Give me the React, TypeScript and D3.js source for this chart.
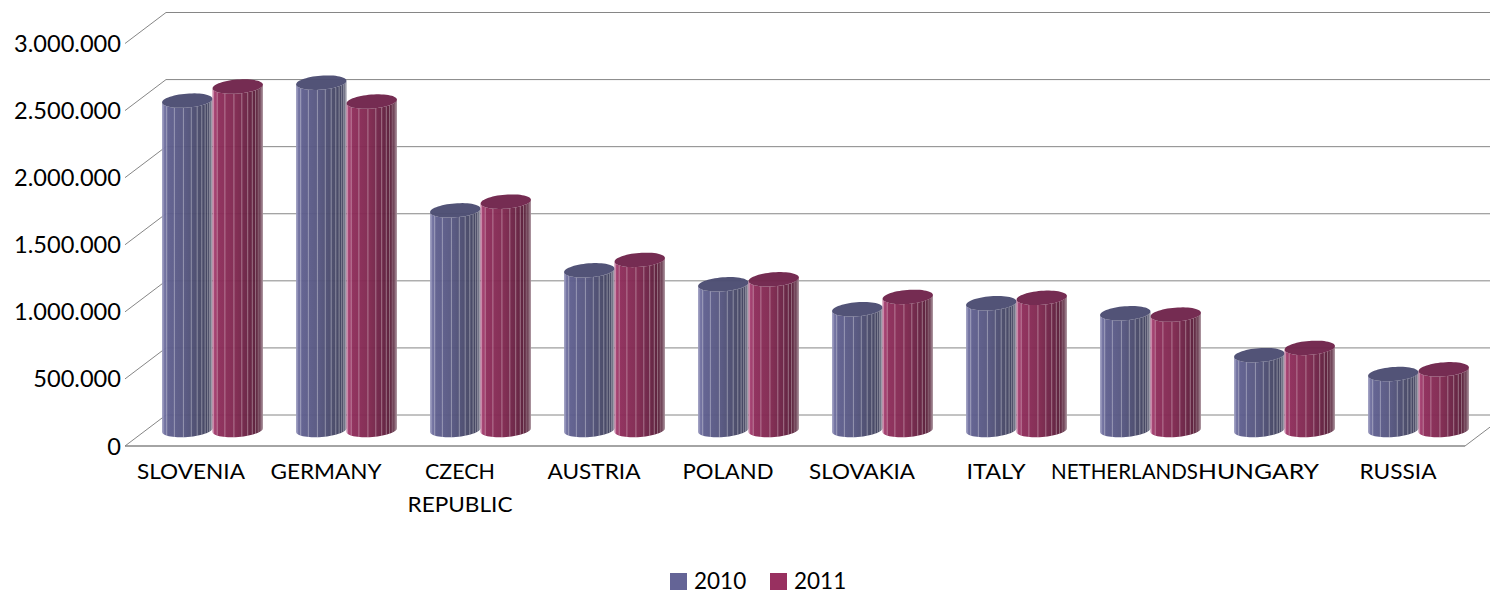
import React from "react";
import * as d3 from "d3";

const categories = ["SLOVENIA", "GERMANY", "CZECH REPUBLIC", "AUSTRIA", "POLAND", "SLOVAKIA", "ITALY", "NETHERLANDS", "HUNGARY", "RUSSIA"];
const series2010 = [2455000, 2589000, 1637000, 1190000, 1086000, 900000, 945000, 870000, 558000, 417000];
const series2011 = [2560000, 2448000, 1702000, 1268000, 1123000, 992000, 985000, 860000, 612000, 452000];
const seriesNames = ["2010", "2011"];
const tickValues = [0, 500000, 1000000, 1500000, 2000000, 2500000, 3000000];
const tickLabels = ["0", "500.000", "1.000.000", "1.500.000", "2.000.000", "2.500.000", "3.000.000"];
const labelShift: Record<string, number> = { NETHERLANDS: -5.5, HUNGARY: -5.5, SLOVENIA: -1 };
const labelWidth: Record<string, number> = {
  SLOVENIA: 108, GERMANY: 111, CZECH: 70, REPUBLIC: 105, AUSTRIA: 93, POLAND: 91,
  SLOVAKIA: 106, ITALY: 59, NETHERLANDS: 147, HUNGARY: 121, RUSSIA: 77,
};

const W = 1490, H = 593;
const FONT = "Lato, 'Noto Sans', sans-serif";
const front = { left: 125, right: 1465, y0: 446, y1: 43.5 };
const depth = { dx: 41, dy: -31 };
const barBaseY = 430;
const barOffset = 37;
const groupWidth = 101;
const RY = 7;
const TILT = (-4.5 * Math.PI) / 180;

const yFront = d3.scaleLinear().domain([0, 3000000]).range([front.y0, front.y1]);
const yBar = d3.scaleLinear().domain([0, 3000000]).range([barBaseY, barBaseY - (front.y0 - front.y1)]);
const xBand = d3.scaleBand<string>().domain(categories).range([front.left, front.right]);
const xInner = d3.scaleBand<string>().domain(seriesNames).range([0, groupWidth]);

const palettes = [
  { id: "g10", stops: ["#7f7fae", "#5f5f8f", "#565680", "#474868", "#3a3b56"], top: "#4c4d72", swatch: "#646496" },
  { id: "g11", stops: ["#b04a7c", "#8e2c5a", "#802850", "#642040", "#4a182e"], top: "#70244b", swatch: "#983060" },
];

const stripeAngles = [14, 34, 58, 80, 98, 112, 124, 134, 143, 151, 158, 164, 170];

function pt(cx: number, cy: number, rx: number, deg: number): [number, number] {
  const t = (deg * Math.PI) / 180;
  const ex = rx * Math.cos(t), ey = RY * Math.sin(t);
  return [cx + ex * Math.cos(TILT) - ey * Math.sin(TILT), cy + ex * Math.sin(TILT) + ey * Math.cos(TILT)];
}
const line = d3.line();

function Cylinder({ cx, rx, topY, bottomY, pal }: { cx: number; rx: number; topY: number; bottomY: number; pal: typeof palettes[number] }) {
  const lower = d3.range(0, 181, 6);
  const body = [
    ...lower.map((a) => pt(cx, bottomY, rx, a)),
    ...lower.slice().reverse().map((a) => pt(cx, topY, rx, a)),
  ];
  const cap = d3.range(0, 361, 6).map((a) => pt(cx, topY, rx, a));
  return (
    <g opacity={0.96}>
      <path d={line(body as [number, number][]) + "Z"} fill={`url(#${pal.id})`} />
      {stripeAngles.map((a) => {
        const p = pt(cx, topY, rx, 180 - a);
        const q = pt(cx, bottomY, rx, 180 - a);
        return <line key={a} x1={p[0]} y1={p[1]} x2={q[0]} y2={q[1]} stroke="#fff" strokeOpacity={0.4} strokeWidth={0.9} />;
      })}
      <path d={line(cap as [number, number][]) + "Z"} fill={pal.top} />
    </g>
  );
}

export default function App() {
  React.useEffect(() => {
    document.body.style.margin = "0";
  }, []);
  const rows = [series2010, series2011];
  const rx = xInner.bandwidth() / 2;
  return (
    <svg width={W} height={H} viewBox={`0 0 ${W} ${H}`} style={{ position: "fixed", left: 0, top: 0, background: "#fff" }} fontFamily={FONT}>
      <defs>
        {palettes.map((p) => (
          <linearGradient key={p.id} id={p.id} x1="0" x2="1" y1="0" y2="0">
            {p.stops.map((c, i) => (
              <stop key={i} offset={[0, 0.12, 0.45, 0.75, 1][i]} stopColor={c} />
            ))}
          </linearGradient>
        ))}
      </defs>

      {tickValues.map((v, i) => {
        const y = yFront(v);
        return (
          <g key={v} stroke="#868686" strokeWidth={1} fill="none">
            {i === 0 && <line x1={front.left} x2={front.right} y1={y} y2={y} strokeWidth={1.4} />}
            {i === 0 && <line x1={front.right} x2={W} y1={y} y2={y + (depth.dy * (W - front.right)) / depth.dx} />}
            <line x1={front.left} y1={y} x2={front.left + depth.dx} y2={y + depth.dy} />
            <line x1={front.left + depth.dx} y1={y + depth.dy} x2={W} y2={y + depth.dy} />
          </g>
        );
      })}

      {tickValues.map((v, i) => (
        <text key={v} x={121} y={yFront(v) + 8.5} textAnchor="end" fontSize={23.6} fill="#000">
          {tickLabels[i]}
        </text>
      ))}

      {categories.map((c, ci) => {
        const bx = (xBand(c) as number) + barOffset;
        return (
          <g key={c}>
            {seriesNames.map((s, si) => {
              const cx = bx + (xInner(s) as number) + rx;
              return <Cylinder key={s} cx={cx} rx={rx} topY={yBar(rows[si][ci])} bottomY={yBar(0)} pal={palettes[si]} />;
            })}
          </g>
        );
      })}

      {categories.map((c) => {
        const cx = (xBand(c) as number) + xBand.bandwidth() / 2 + (labelShift[c] || 0);
        const parts = c === "CZECH REPUBLIC" ? c.split(" ") : [c];
        return (
          <g key={c}>
            {parts.map((p, i) => (
              <text key={p} x={cx} y={479 + i * 33} textAnchor="middle" fontSize={22} fill="#000" textLength={labelWidth[p]} lengthAdjust="spacingAndGlyphs">
                {p}
              </text>
            ))}
          </g>
        );
      })}

      {seriesNames.map((s, i) => {
        const x = d3.scaleOrdinal<string, number>().domain(seriesNames).range([670, 770])(s);
        return (
          <g key={s}>
            <rect x={x} y={573} width={17} height={17} fill={palettes[i].swatch} />
            <text x={x + 24} y={589} fontSize={22.5} fill="#000">{s}</text>
          </g>
        );
      })}
    </svg>
  );
}
